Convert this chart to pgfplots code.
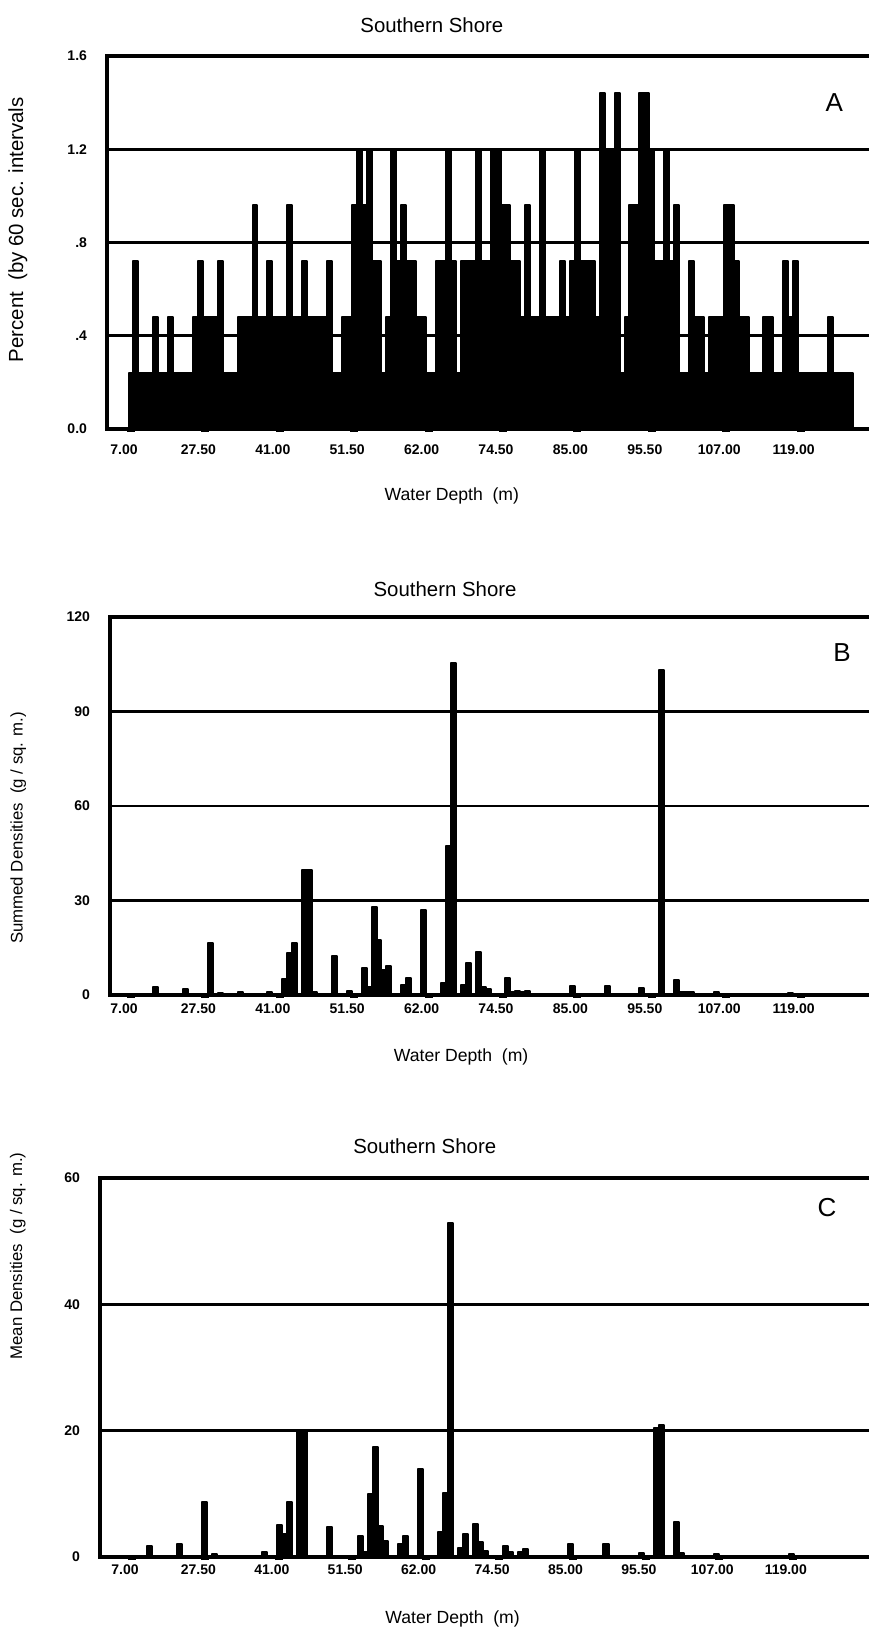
\documentclass[border=0pt]{standalone}
\usepackage{fontspec}
\setmainfont{Liberation Sans}
\usepackage{pgfplots}
\pgfplotsset{compat=1.18}
\pgfplotsset{
  panel/.style={
    scale only axis, anchor=south west,
    axis line style={line width=1.6pt},
    ymajorgrids, grid style={line width=1.4pt, black},
    xtick={0,15,...,135},
    xticklabels={7.00,27.50,41.00,51.50,62.00,74.50,85.00,95.50,107.00,119.00},
    tick pos=left,
    tick align=outside, major tick length=1.5pt,
    xtick style={line width=4pt, black},
    ytick style={draw=none},
    /pgf/number format/assume math mode=true,
    tick label style={font=\fontsize{7}{8}\selectfont\bfseries},
    yticklabel style={xshift=-5pt},
    xticklabel style={xshift=-3.5pt},
    title style={font=\fontsize{10.2}{12}\selectfont, anchor=center, yshift=-6pt},
    xlabel style={font=\fontsize{8.8}{11}\selectfont, anchor=center},
    ylabel style={anchor=center},
  },
  bars/.style={ybar, bar width=1, bar shift=0, fill=black, draw=black, line width=1pt, line join=round},
}
\begin{document}
\begin{tikzpicture}
\useasboundingbox (0,0) rectangle (434pt,816.5pt);
% ---------------- Panel A
\begin{axis}[panel, at={(53.5pt,602pt)}, width=384pt, height=186.5pt,
  xmin=-4.84, xmax=150, ymin=0, ymax=1.6,
  ytick={0,0.4,0.8,1.2,1.6}, yticklabels={0.0,.4,.8,1.2,1.6},
  xticklabel style={yshift=-3pt},
  title={Southern Shore}, title style={at={(0.423,1.083)}},
  xlabel={Water Depth\ \ (m)}, xlabel style={at={(0.449,-0.18)}},
  ylabel={Percent\ \ (by 60 sec. intervals}, ylabel style={at={(-0.116,0.534)}, font=\fontsize{10.2}{12}\selectfont}]
\addplot[bars] coordinates {
(0,0.24)(1,0.72)(2,0.24)(3,0.24)(4,0.24)(5,0.48)(6,0.24)(7,0.24)(8,0.48)(9,0.24)
(10,0.24)(11,0.24)(12,0.24)(13,0.48)(14,0.72)(15,0.48)(16,0.48)(17,0.48)(18,0.72)(19,0.24)
(20,0.24)(21,0.24)(22,0.48)(23,0.48)(24,0.48)(25,0.96)(26,0.48)(27,0.48)(28,0.72)(29,0.48)
(30,0.48)(31,0.48)(32,0.96)(33,0.48)(34,0.48)(35,0.72)(36,0.48)(37,0.48)(38,0.48)(39,0.48)
(40,0.72)(41,0.24)(42,0.24)(43,0.48)(44,0.48)(45,0.96)(46,1.2)(47,0.96)(48,1.2)(49,0.72)
(50,0.72)(51,0.24)(52,0.48)(53,1.2)(54,0.72)(55,0.96)(56,0.72)(57,0.72)(58,0.48)(59,0.48)
(60,0.24)(61,0.24)(62,0.72)(63,0.72)(64,1.2)(65,0.72)(66,0.24)(67,0.72)(68,0.72)(69,0.72)
(70,1.2)(71,0.72)(72,0.72)(73,1.2)(74,1.2)(75,0.96)(76,0.96)(77,0.72)(78,0.72)(79,0.48)
(80,0.96)(81,0.48)(82,0.48)(83,1.2)(84,0.48)(85,0.48)(86,0.48)(87,0.72)(88,0.48)(89,0.72)
(90,1.2)(91,0.72)(92,0.72)(93,0.72)(94,0.48)(95,1.44)(96,1.2)(97,1.2)(98,1.44)(99,0.24)
(100,0.48)(101,0.96)(102,0.96)(103,1.44)(104,1.44)(105,1.2)(106,0.72)(107,0.72)(108,1.2)(109,0.72)
(110,0.96)(111,0.24)(112,0.24)(113,0.72)(114,0.48)(115,0.48)(116,0.24)(117,0.48)(118,0.48)(119,0.48)
(120,0.96)(121,0.96)(122,0.72)(123,0.48)(124,0.48)(125,0.24)(126,0.24)(127,0.24)(128,0.48)(129,0.48)
(130,0.24)(131,0.24)(132,0.72)(133,0.48)(134,0.72)(135,0.24)(136,0.24)(137,0.24)(138,0.24)(139,0.24)
(140,0.24)(141,0.48)(142,0.24)(143,0.24)(144,0.24)(145,0.24)
};
\node[font=\fontsize{13}{15}\selectfont] at (rel axis cs:0.947,0.874) {A};
\end{axis}
% ---------------- Panel B
\begin{axis}[panel, at={(55pt,319pt)}, width=382.5pt, height=189pt,
  xmin=-4.234, xmax=150, ymin=0, ymax=120,
  ytick={0,30,60,90,120},
  xticklabel style={yshift=0.5pt},
  title={Southern Shore}, title style={at={(0.438,1.074)}},
  xlabel={Water Depth\ \ (m)}, xlabel style={at={(0.459,-0.164)}},
  ylabel={Summed Densities\ \ (g / sq. m.)}, ylabel style={at={(-0.12,0.442)}, font=\fontsize{8.4}{10}\selectfont}]
\addplot[bars] coordinates {
(5,2.6)(11,1.8)(16,16.4)(18,0.6)(22,1.0)(28,1.0)(31,5.0)(32,13.3)(33,16.4)(35,39.8)(36,39.8)
(37,1.0)(41,12.4)(44,1.2)(47,8.5)(48,2.6)(49,27.9)(50,17.3)(51,7.8)(52,9.2)(55,3.2)(56,5.5)
(59,27.0)(63,3.9)(64,47.2)(65,105.5)(67,3.2)(68,10.1)(70,13.8)(71,2.6)(72,2.0)(76,5.3)
(77,1.0)(78,1.2)(79,1.0)(80,1.2)(89,2.9)(96,2.9)(103,2.2)(107,103.2)(110,4.7)(111,1.0)
(112,1.0)(113,1.0)(118,1.0)(133,0.5)
};
\node[font=\fontsize{13}{15}\selectfont] at (rel axis cs:0.957,0.907) {B};
\end{axis}
% ---------------- Panel C
\begin{axis}[panel, at={(50pt,38pt)}, width=387.5pt, height=189.5pt,
  xmin=-4.82, xmax=149.6, ymin=0, ymax=60,
  ytick={0,20,40,60},
  xtick={1.55,16.18,30.81,45.44,60.07,74.70,89.33,103.96,118.59,133.22},
  xticklabel style={yshift=1pt},
  title={Southern Shore}, title style={at={(0.419,1.084)}},
  xlabel={Water Depth\ \ (m)}, xlabel style={at={(0.455,-0.164)}},
  ylabel={Mean Densities\ \ (g / sq. m.)}, ylabel style={at={(-0.106,0.794)}, font=\fontsize{8.4}{10}\selectfont}]
\addplot[bars] coordinates {
(5,1.7)(11,2.0)(16,8.7)(18,0.5)(28,0.8)(31,5.1)(32,3.6)(33,8.7)(35,19.9)(36,19.9)
(41,4.8)(47,3.3)(48,0.8)(49,9.9)(50,17.4)(51,4.9)(52,2.5)(55,2.1)(56,3.3)(59,13.9)
(63,3.9)(64,10.1)(65,52.9)(67,1.5)(68,3.6)(70,5.2)(71,2.3)(72,1.0)(76,1.7)(77,0.8)
(79,0.8)(80,1.2)(89,2.1)(96,2.0)(103,0.6)(106,20.5)(107,20.9)(110,5.5)(111,0.6)(118,0.5)(133,0.5)
};
\node[font=\fontsize{13}{15}\selectfont] at (rel axis cs:0.938,0.923) {C};
\end{axis}
\end{tikzpicture}
\end{document}
